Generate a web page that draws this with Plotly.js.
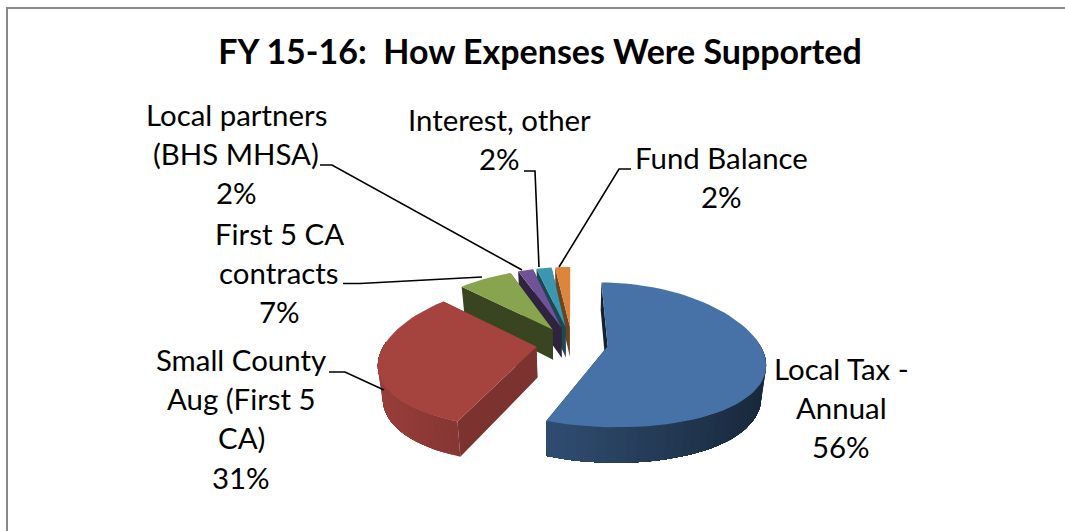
<!DOCTYPE html>
<html>
<head>
<meta charset="utf-8">
<script src="https://cdn.plot.ly/plotly-3.0.1.min.js"></script>
<style>html,body{margin:0;padding:0;background:#fff}#chart{width:1065px;height:531px}</style>
</head>
<body>
<div id="chart"></div>
<script>
// FY 15-16 funding sources, in percent
const categories = ["Local Tax - Annual", "Small County Aug (First 5 CA)", "First 5 CA contracts",
                    "Local partners (BHS MHSA)", "Interest, other", "Fund Balance"];
const values = [56, 31, 7, 2, 2, 2];
const titleText = "FY 15-16:\u00a0 How Expenses Were Supported";

// Label text, one entry per line
const labelLines = [
  ["Local Tax -", "Annual", "56%"],
  ["Small County", "Aug (First 5", "CA)", "31%"],
  ["First 5 CA", "contracts", "7%"],
  ["Local partners", "(BHS MHSA)", "2%"],
  ["Interest, other", "2%"],
  ["Fund Balance", "2%"]
];

// Styling
const topColors = ["#4672A8", "#A5433F", "#88A44E", "#6F5396", "#3B96B0", "#DE853C"];
const sideDim = [0.30, 0.75, 0.42, 0.42, 0.48, 0.50];
const FONT = "Lato, 'Open Sans', sans-serif";
const LABEL_SIZE = 29.4, TITLE_SIZE = 34;

// Label placement: centre x and the y of the first line, with a fixed line step
const labelX = [841, 241, 279, 236, 499, 721];
const labelY = [368.5, 359.5, 233.5, 114.5, 119.5, 157.5];
const LINE_STEP = 39.2;

// Leader lines, from the label to its slice
const leaders = [
  null,
  [[329, 372], [345, 372], [384, 390]],
  [[343, 283.5], [360, 283.5], [482, 277]],
  [[320, 165], [332, 165], [522, 270]],
  [[524, 171], [535, 171], [539, 267]],
  [[631, 169], [619, 169], [559, 267]]
];

// Projection of the tilted pie onto the page
const CX = 572, CY = 343, R = 156, EXPLODE = 37, TILT = 0.4526, DEPTH = 31, BASE_SHRINK = 0.975;
const PERSP_Y = 0.12, PERSP_X = 0.21, X_SCALE = 0.972;

function project(gx, gy, lower) {
  const s = 1 / (1 - PERSP_Y * gy / R);
  const sx = 1 / (1 - PERSP_X * gy / R);
  let px = CX + gx * X_SCALE * sx, py = CY + gy * TILT * s;
  if (lower) {
    px = CX + (px - CX) * BASE_SHRINK;
    py = py + DEPTH * s;
  }
  return [px, py];
}

function shade(hex, f) {
  const n = parseInt(hex.slice(1), 16);
  const c = [(n >> 16) & 255, (n >> 8) & 255, n & 255].map(v => Math.round(v * f));
  return `rgb(${c[0]},${c[1]},${c[2]})`;
}

function polygon(points, color) {
  return {
    type: "scatter", mode: "lines", hoverinfo: "skip", showlegend: false,
    x: points.map(p => p[0]).concat(points[0][0]),
    y: points.map(p => p[1]).concat(points[0][1]),
    fill: "toself", fillcolor: color,
    line: {color: color, width: 0}
  };
}

// Slice extents, clockwise from twelve o'clock
const total = values.reduce((a, b) => a + b, 0);
let running = 0;
const slices = values.map((v, i) => {
  const a0 = running / total * 2 * Math.PI;
  running += v;
  const a1 = running / total * 2 * Math.PI;
  const mid = (a0 + a1) / 2;
  return {i, a0, a1, ox: EXPLODE * Math.sin(mid), oy: -EXPLODE * Math.cos(mid)};
});

function rim(sl, a) {
  return [sl.ox + R * Math.sin(a), sl.oy - R * Math.cos(a)];
}

function sliceTraces(sl) {
  const out = [], col = topColors[sl.i], step = 3 * Math.PI / 180;
  const angles = [];
  for (let a = sl.a0; a < sl.a1; a += step) angles.push(a);
  angles.push(sl.a1);

  // Radial walls
  [sl.a0, sl.a1].forEach(a => {
    const g = rim(sl, a);
    out.push(polygon([
      project(sl.ox, sl.oy), project(g[0], g[1]),
      project(g[0], g[1], true), project(sl.ox, sl.oy, true)
    ], shade(col, sideDim[sl.i])));
  });

  // Outer wall, darkening from left to right; each band runs on under the next
  const front = [];
  for (let k = 0; k < angles.length - 1; k++) {
    if (Math.cos((angles[k] + angles[k + 1]) / 2) <= 0.08) front.push(k);
  }
  front.forEach(k => {
    const gn = rim(sl, angles[k + 1]), ga = rim(sl, angles[k]);
    const pa = project(ga[0], ga[1]), pn = project(gn[0], gn[1]);
    const norm = ((pa[0] + pn[0]) / 2 - CX) / 192;
    const f = 0.64 - 0.28 * norm;
    const band = [];
    for (let m = k; m <= front[front.length - 1] + 1; m++) {
      const g = rim(sl, angles[m]);
      band.push(project(g[0], g[1]));
    }
    for (let m = front[front.length - 1] + 1; m >= k; m--) {
      const g = rim(sl, angles[m]);
      band.push(project(g[0], g[1], true));
    }
    out.push(polygon(band, shade(col, f)));
  });

  // Top face
  const face = [project(sl.ox, sl.oy)];
  angles.forEach(a => { const g = rim(sl, a); face.push(project(g[0], g[1])); });
  out.push(polygon(face, col));
  return out;
}

// Paint from the back of the pie to the front
const paintOrder = [5, 4, 3, 2, 1, 0];
const traces = [];
paintOrder.forEach(i => traces.push(...sliceTraces(slices[i])));

leaders.forEach(l => {
  if (!l) return;
  traces.push({
    type: "scatter", mode: "lines", hoverinfo: "skip", showlegend: false,
    x: l.map(p => p[0]), y: l.map(p => p[1]),
    line: {color: "#000", width: 1.6}
  });
});

const annotations = [];
labelLines.forEach((lines, i) => {
  lines.forEach((t, j) => {
    annotations.push({
      xref: "x", yref: "y", x: labelX[i], y: labelY[i] + j * LINE_STEP,
      text: t, showarrow: false, xanchor: "center", yanchor: "middle",
      font: {family: FONT, size: LABEL_SIZE, color: "#000"}
    });
  });
});

const layout = {
  width: 1065, height: 531,
  margin: {l: 0, r: 0, t: 0, b: 0},
  paper_bgcolor: "#fff", plot_bgcolor: "#fff",
  showlegend: false,
  title: {
    text: "<b>" + titleText + "</b>",
    x: 540 / 1065, xanchor: "center", y: 1 - 52 / 531, yanchor: "middle",
    font: {family: FONT, size: TITLE_SIZE, color: "#000"}
  },
  xaxis: {range: [0, 1065], visible: false, fixedrange: true},
  yaxis: {range: [531, 0], visible: false, fixedrange: true},
  annotations,
  shapes: [
    {type: "line", xref: "x", yref: "y", x0: 7, x1: 7, y0: 8, y1: 531, line: {color: "#8a8a8a", width: 2}},
    {type: "line", xref: "x", yref: "y", x0: 6, x1: 1065, y0: 8, y1: 8, line: {color: "#8a8a8a", width: 2}}
  ]
};

Plotly.newPlot("chart", traces, layout, {displayModeBar: false, staticPlot: true});
</script>
</body>
</html>
